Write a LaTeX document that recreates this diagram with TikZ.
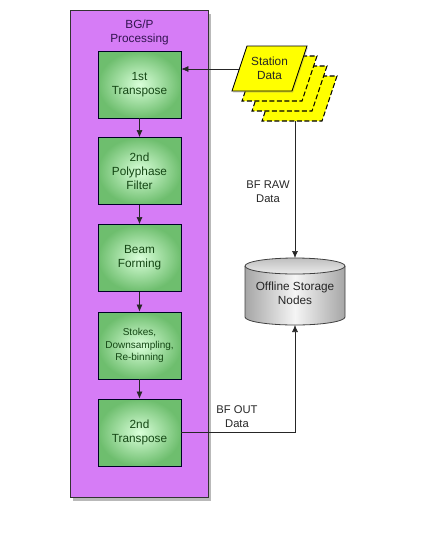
\documentclass[tikz,border=0pt]{standalone}
\usepackage{fontspec}
\setmainfont{Liberation Sans}
\usetikzlibrary{shadows,arrows.meta}
\definecolor{bgpurple}{RGB}{214,124,246}
\definecolor{boxgreen}{RGB}{110,190,110}
\definecolor{txtgreen}{RGB}{20,70,20}
\definecolor{txtpurple}{RGB}{50,20,80}
\definecolor{stationyellow}{RGB}{255,255,0}
\begin{document}
\begin{tikzpicture}[x=1pt,y=-1pt,
  stagebox/.style={draw=black!75!blue!60!black,line width=0.8pt,inner color=white!85!green,outer color=boxgreen,
     minimum width=83pt,minimum height=67pt,align=center,font=\fontsize{11.8}{14}\selectfont,text=txtgreen},
  lbl/.style={align=center,font=\fontsize{11.2}{14}\selectfont,text=black!85},
  arr/.style={-{Latex[length=7pt,width=6pt]},line width=0.6pt,black!85}]
\useasboundingbox (0,0) rectangle (425,550);
% BG/P container
\node[draw=black!80,line width=0.8pt,fill=bgpurple,minimum width=138pt,minimum height=487pt,
  drop shadow={shadow xshift=2.5pt,shadow yshift=-3.5pt,opacity=0.55}] (bgp) at (139,253.5) {};
\node[lbl,text=txtpurple,font=\fontsize{11.8}{14}\selectfont] (bgptitle) at (139.5,32) {BG/P\\Processing};
% stages
\node[stagebox] (t1) at (139.5,84.5) {1st\\Transpose};
\node[stagebox] (pf) at (139.5,171) {2nd\\Polyphase\\Filter};
\node[stagebox] (bf) at (139.5,258) {Beam\\Forming};
\node[stagebox,font=\fontsize{10}{12.5}\selectfont] (st) at (139.5,345.5) {Stokes,\\Downsampling,\\Re-binning};
\node[stagebox] (t2) at (139.5,432.5) {2nd\\Transpose};
\draw[arr] (t1) -- (pf);
\draw[arr] (pf) -- (bf);
\draw[arr] (bf) -- (st);
\draw[arr] (st) -- (t2);
% station data stack
\foreach \d in {30,20,10}{
  \draw[fill=stationyellow,line width=1.1pt,dashed,dash pattern=on 5pt off 2.5pt]
    (247+\d,46+\d) -- (307+\d,46+\d) -- (292+\d,91+\d) -- (232+\d,91+\d) -- cycle;
}
\draw[fill=stationyellow,line width=0.8pt,drop shadow={shadow xshift=1pt,shadow yshift=-1.5pt,opacity=0.3}]
    (247,46) -- (307,46) -- (292,91) -- (232,91) -- cycle;
\node[lbl,font=\fontsize{11.8}{14}\selectfont] (sd) at (269.5,68.5) {Station\\Data};
\coordinate (sdleft) at (239.5,69);
\coordinate (sdbottom) at (295,121);
% storage cylinder
\shade[left color=black!35,right color=black!35,middle color=black!4]
  (245,266) -- (245,317) arc[start angle=180,end angle=360,x radius=50,y radius=-8] -- (345,266) -- cycle;
\draw[black!75,line width=0.8pt]
  (245,266) -- (245,317) arc[start angle=180,end angle=360,x radius=50,y radius=-8] -- (345,266);
\draw[black!75,line width=0.8pt,top color=black!25,bottom color=black!8] (295,266) ellipse[x radius=50,y radius=8];
\node[lbl,font=\fontsize{11.8}{14}\selectfont] (st2) at (295,293) {Offline Storage\\Nodes};
\coordinate (cyltop) at (295,258);
\coordinate (cylbot) at (295,325);
% connectors
\draw[arr] (sdleft) -- (t1.east |- sdleft);
\draw[arr] (sdbottom) -- (cyltop);
\node[lbl] (rawlbl) at (268,192) {BF RAW\\Data};
\draw[arr] (t2.east) -- (295,432.5) -- (cylbot);
\node[lbl] (outlbl) at (237,417) {BF OUT\\Data};
\end{tikzpicture}
\end{document}
